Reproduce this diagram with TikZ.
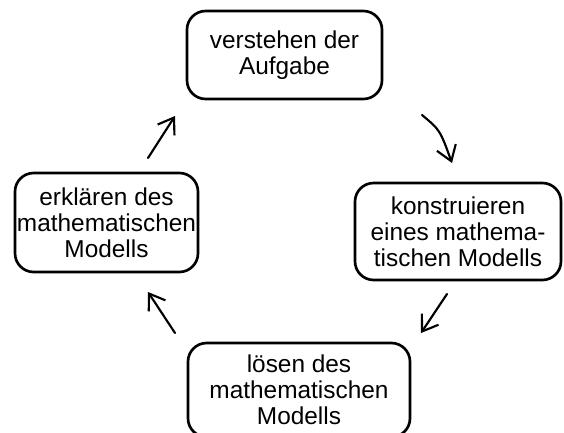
\documentclass[tikz,border=0pt]{standalone}
\usepackage{fontspec}
\setmainfont{Liberation Sans}
\usetikzlibrary{arrows.meta}
\begin{document}
\begin{tikzpicture}[x=0.75pt,y=-0.75pt,
  stage/.style={draw=black, line width=2pt, rounded corners=14pt, fill=white,
    align=center, inner sep=0pt,
    font=\fontsize{18.3pt}{19.5pt}\selectfont},
  cyclearrow/.style={line width=1.6pt, line cap=round,
    -{Straight Barb[length=11pt,width=15pt,line width=1.6pt]}}]
\useasboundingbox (0,0) rectangle (564,432);
% the four stages of the modelling cycle
\node[stage, minimum width=195*0.75pt, minimum height=88*0.75pt]
  (verstehen) at (284.5,55) {verstehen der\\Aufgabe};
\node[stage, minimum width=206*0.75pt, minimum height=97*0.75pt]
  (konstruieren) at (458,231.5) {konstruieren\\eines mathema-\\tischen Modells};
\node[stage, minimum width=222*0.75pt, minimum height=94*0.75pt]
  (loesen) at (299,390) {lösen des\\mathematischen\\Modells};
\node[stage, minimum width=183*0.75pt, minimum height=99*0.75pt]
  (erklaeren) at (106.5,222.5) {erklären des\\mathematischen\\Modells};
% arrow end points between the stages
\coordinate (a1s) at (422,115);
\coordinate (a1e) at (452,163);
\coordinate (a2s) at (447,294);
\coordinate (a2e) at (421,333);
\coordinate (a3s) at (175,333);
\coordinate (a3e) at (148,292);
\coordinate (a4s) at (148,158);
\coordinate (a4e) at (175,116);
\draw[cyclearrow] (a1s) .. controls (440,130) .. (a1e);
\draw[cyclearrow] (a2s) -- (a2e);
\draw[cyclearrow] (a3s) -- (a3e);
\draw[cyclearrow] (a4s) -- (a4e);
\end{tikzpicture}
\end{document}
